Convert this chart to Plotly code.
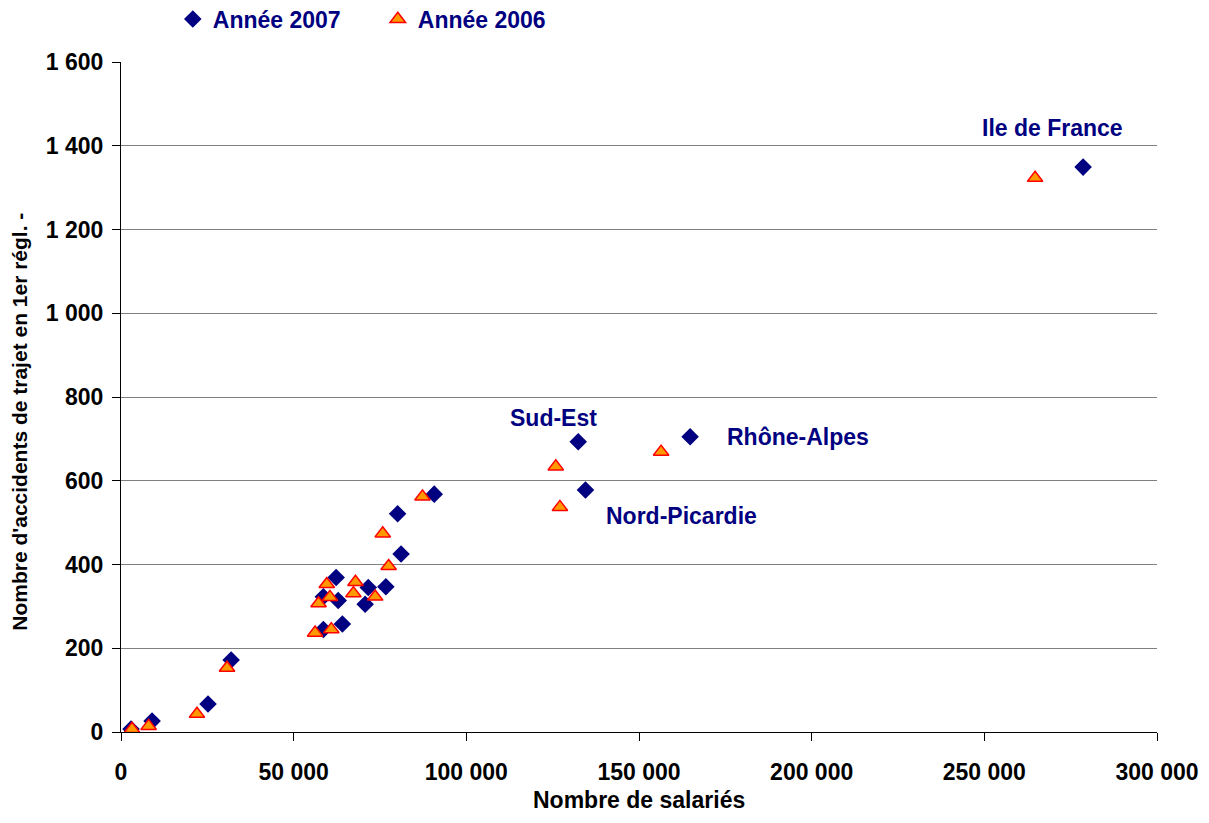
import plotly.graph_objects as go

# 2007 series (diamonds)
x2007 = [2900, 9000, 25200, 31900, 58600, 58600, 62300, 62900, 64100, 70700, 71600, 76700,
         80100, 81100, 90700, 132400, 134500, 164800, 278600]
y2007 = [7, 26, 67, 172, 323, 245, 369, 314, 258, 305, 345, 347,
         521, 425, 568, 693, 578, 705, 1349]

# 2006 series (triangles)
x2006 = [3200, 8000, 22000, 30700, 56200, 57200, 59600, 60500, 60900, 67300, 67900, 73600,
         75800, 77500, 87300, 125900, 127100, 156400, 264700]
y2006 = [7, 14, 43, 153, 237, 307, 353, 322, 245, 331, 358, 323,
         474, 396, 562, 634, 537, 669, 1323]

labels = ["Ile de France", "Sud-Est", "Rhône-Alpes", "Nord-Picardie"]
label_x = [269600, 125100, 174900, 139900]
label_y = [1442, 750, 704, 516]
label_anchor = ["center", "center", "left", "left"]

xtick_vals = [0, 50000, 100000, 150000, 200000, 250000, 300000]
xtick_text = ["0", "50 000", "100 000", "150 000", "200 000", "250 000", "300 000"]
ytick_vals = [0, 200, 400, 600, 800, 1000, 1200, 1400, 1600]
ytick_text = ["0", "200", "400", "600", "800", "1 000", "1 200", "1 400", "1 600"]

FONT = "Liberation Sans, Arial, sans-serif"
NAVY = "#000080"

fig = go.Figure()
fig.add_trace(go.Scatter(
    x=x2007, y=y2007, mode="markers", name="Année 2007",
    marker=dict(symbol="diamond", size=13.5, color=NAVY, line=dict(width=0)),
))
fig.add_trace(go.Scatter(
    x=x2006, y=y2006, mode="markers", name="Année 2006",
    marker=dict(symbol="triangle-up", size=13.5, color="#FF9900", line=dict(width=1.5, color="#FF0000")),
))

for t, lx, ly, anc in zip(labels, label_x, label_y, label_anchor):
    fig.add_annotation(x=lx, y=ly, text=t, showarrow=False, xanchor=anc, yanchor="middle",
                       font=dict(family=FONT, size=23, color=NAVY, weight="bold"))

fig.add_annotation(xref="paper", yref="paper", x=-0.0975, y=0.463, textangle=-90,
                   xanchor="center", yanchor="middle",
                   text="Nombre d'accidents de trajet en 1er régl. -", showarrow=False,
                   font=dict(family=FONT, size=21, color="black", weight="bold"))

fig.add_annotation(xref="paper", yref="paper", x=0.5, y=-0.1235,
                   xanchor="center", yanchor="bottom",
                   text="Nombre de salariés", showarrow=False,
                   font=dict(family=FONT, size=23, color="black", weight="bold"))

fig.update_layout(
    width=1193, height=807,
    margin=dict(l=113, r=44, t=54, b=83, autoexpand=False),
    paper_bgcolor="white", plot_bgcolor="white",
    font=dict(family=FONT, color="black"),
    showlegend=True,
    legend=dict(orientation="h", x=0.05, y=1.064, xanchor="left", yanchor="middle",
                font=dict(family=FONT, size=23, color=NAVY, weight="bold"), entrywidth=160,
                entrywidthmode="pixels", bgcolor="rgba(0,0,0,0)"),
    xaxis=dict(range=[0, 300000], tickvals=xtick_vals, ticktext=xtick_text,
               showgrid=False, zeroline=False, showline=True, linecolor="black", linewidth=1,
               ticks="outside", ticklen=8, tickcolor="black", ticklabelstandoff=11,
               tickfont=dict(family=FONT, size=23, color="black", weight="bold")),
    yaxis=dict(range=[0, 1600], tickvals=ytick_vals, ticktext=ytick_text,
               showgrid=True, gridcolor="#808080", gridwidth=1, zeroline=False,
               showline=True, linecolor="black", linewidth=1,
               ticks="outside", ticklen=8, tickcolor="black", ticklabelstandoff=4,
               tickfont=dict(family=FONT, size=23, color="black", weight="bold")),
)

fig.write_html("out.html")
